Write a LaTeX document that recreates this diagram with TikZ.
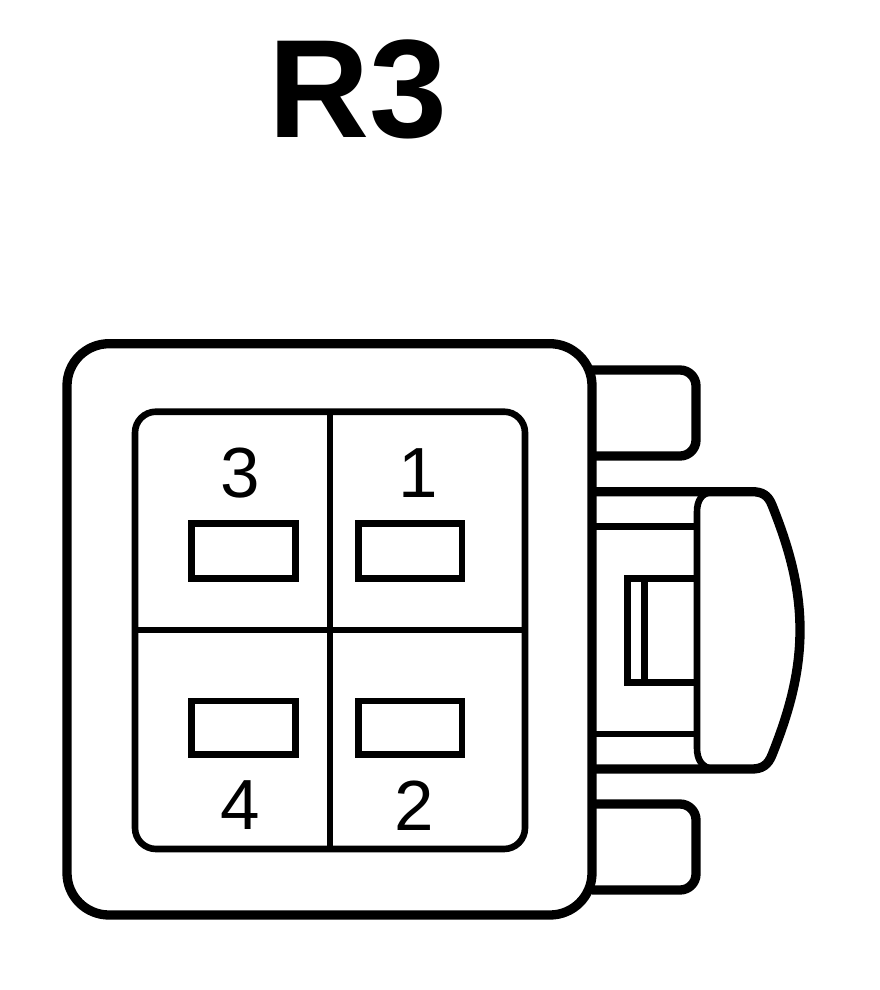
\documentclass[tikz,border=0pt]{standalone}
\usepackage{fontspec}
\setmainfont{Liberation Sans}
\tikzset{
  heavy/.style={draw=black,line width=9.3pt},
  thin part/.style={draw=black,line width=6.6pt},
  pin/.style={draw=black,line width=6.6pt},
  digit/.style={inner sep=0pt,font=\fontsize{71}{71}\selectfont},
}
\begin{document}
\begin{tikzpicture}[x=1pt,y=-1pt]
\useasboundingbox (0,0) rectangle (880,990);
\fill[white] (0,0) rectangle (880,990);
% title
\node[inner sep=0pt,font=\bfseries\fontsize{140}{140}\selectfont] (title) at (357.5,89) {R3};
% side tabs
\draw[heavy,rounded corners=16pt] (592,370) -- (696,370) -- (696,456) -- (592,456);
\draw[heavy,rounded corners=16pt] (592,804) -- (696,804) -- (696,890) -- (592,890);
% latch body lines
\draw[thin part] (592,526.7) -- (697,526.7);
\draw[thin part] (592,734) -- (697,734);
\draw[thin part] (644.5,578.5) -- (644.5,682.5);
\draw[thin part] (697,578.5) -- (627.7,578.5) -- (627.7,682.5) -- (697,682.5);
% latch button
\draw[thin part] (712,492) .. controls (702,493) and (697,500) .. (697,512) -- (697,748) .. controls (697,760) and (702,767) .. (712,769);
\draw[heavy] (592,491.7) -- (752,491.7) .. controls (762,491.7) and (768,495) .. (772,505)
  .. controls (788,545) and (800,585) .. (800,630)
  .. controls (800,675) and (788,715) .. (772,755)
  .. controls (768,765) and (762,769) .. (752,769) -- (592,769);
% housing
\draw[heavy,fill=white,rounded corners=42pt] (67,343.7) rectangle (592,915);
% cavity
\draw[thin part,rounded corners=21pt] (135,411.7) rectangle (525,849);
\draw[thin part] (330,411.7) -- (330,849);
\draw[thin part] (135,630) -- (525,630);
% pins
\draw[pin] (191.3,523.3) rectangle (295.7,578.5);
\draw[pin] (358.5,523.3) rectangle (462,578.5);
\draw[pin] (191.3,701) rectangle (295.7,754.5);
\draw[pin] (358.5,701) rectangle (462,754.5);
% labels
\node[digit] (p3) at (240.5,473.5) {3};
\node[digit] (p1) at (418,473.5) {1};
\node[digit] (p4) at (240.5,805.5) {4};
\node[digit] (p2) at (414,805.5) {2};
\end{tikzpicture}
\end{document}
